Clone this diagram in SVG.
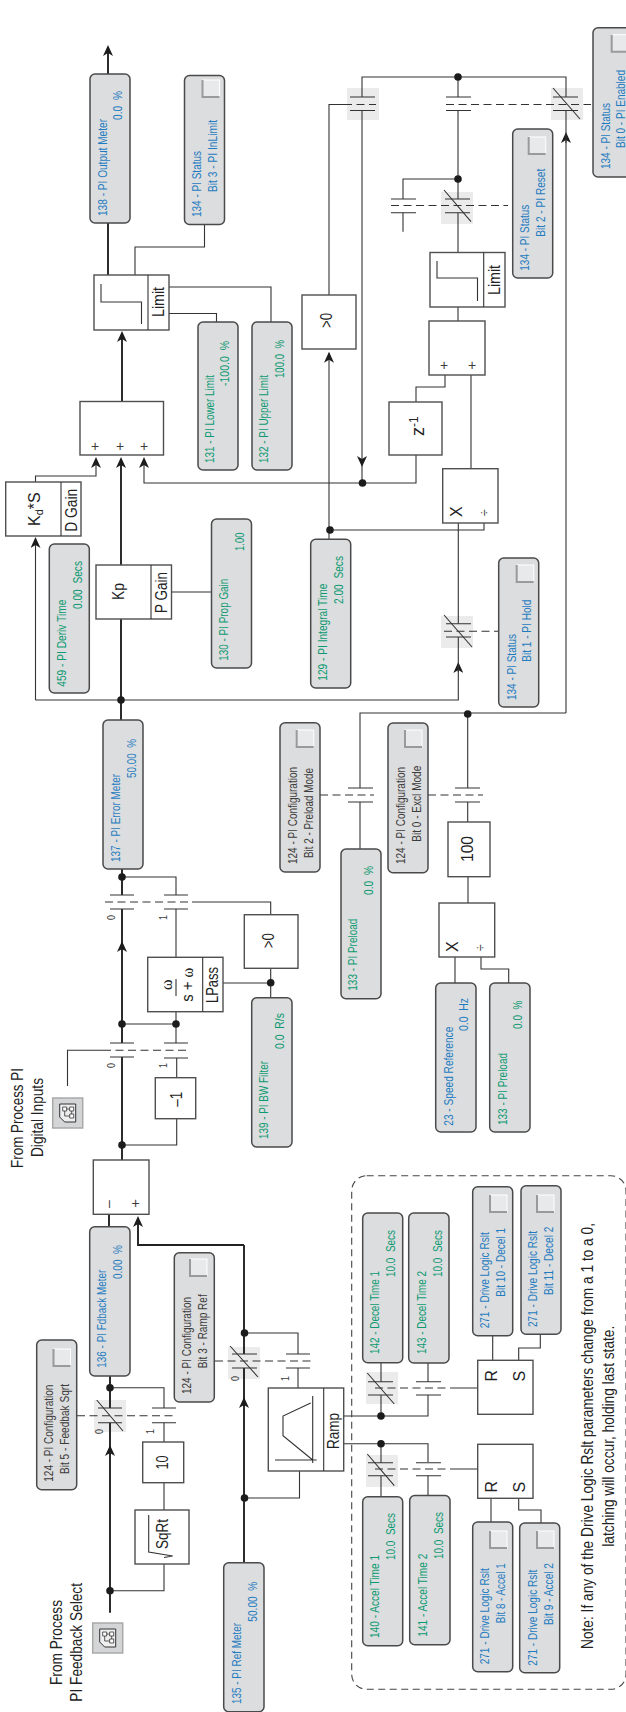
<svg xmlns="http://www.w3.org/2000/svg" width="626" height="1712" viewBox="0 0 626 1712">
<style>
text{font-family:"Liberation Sans",Arial,sans-serif;white-space:pre}
.t{font-size:12.4px}
.b{fill:#1f7cc1}.g{fill:#0c9a72}.n{fill:#3c3c3c}
.L{font-size:16px;fill:#222}
.tile{fill:#dcddde;stroke:#4a4a4a;stroke-width:1.5}
.box{fill:#fff;stroke:#4f4f4f;stroke-width:1.4}
.w{fill:none;stroke:#333;stroke-width:1.1}
.k{fill:none;stroke:#222;stroke-width:1.9}
.d{fill:none;stroke:#333;stroke-width:1.1;stroke-dasharray:8 4.5}
.dot{fill:#1c1c1c}
.sw{fill:#ebebec}
.cb{fill:#e8e9ea;stroke:#fff;stroke-width:1}
.cbs{fill:none;stroke:#9a9a9a;stroke-width:2}
.ic{fill:#d4d5d6;stroke:#a9a9a9;stroke-width:1.5}
.s{font-size:10.5px;fill:#3c3c3c}
</style>
<defs>
<marker id="arr" markerUnits="userSpaceOnUse" markerWidth="12" markerHeight="10" refX="9" refY="5" orient="auto"><path d="M11 5L0 0L3 5L0 10Z" fill="#1c1c1c"/></marker>
<g id="check"><rect class="cb" width="17" height="17"/><path class="cbs" d="M0 0V17H17"/></g>
<g id="icon"><rect class="ic" width="30" height="30"/><path d="M7 6H23V24H12L7 19Z" fill="#eee" stroke="#333"/><path d="M10 9h4v4h-4zM17 9h4v4h-4zM17 16h4v4h-4z" fill="#fff" stroke="#333" stroke-width=".8"/><path d="M14 11h3M19 13v3M12 13v5h5" fill="none" stroke="#333" stroke-width=".8"/></g>
</defs>

<g id="switch-backgrounds">
<rect class="sw" x="347" y="88" width="32" height="32"/>
<rect class="sw" x="551" y="88" width="32" height="32"/>
<rect class="sw" x="441" y="192" width="32" height="32"/>
<rect class="sw" x="441" y="616" width="32" height="32"/>
<rect class="sw" x="228" y="1347" width="32" height="32"/>
<rect class="sw" x="94" y="1400" width="32" height="32"/>
<rect class="sw" x="366" y="1372" width="32" height="32"/>
<rect class="sw" x="366" y="1455" width="32" height="32"/>
</g>

<g id="connectors">
<path class="k" d="M108 275V223M108 74V47" marker-end="url(#arr)"/>
<path class="k" d="M122 401.500V333" marker-end="url(#arr)"/>
<path class="k" d="M121 565V459" marker-end="url(#arr)"/>
<path class="k" d="M121 720V619M122 869V895M122 950V909M122 1160V1057M109 1226.700V1214"/>
<path class="k" d="M122 1043V943" marker-end="url(#arr)"/>
<path class="k" d="M244 1245H138V1218" marker-end="url(#arr)"/>
<path class="k" d="M244 1245V1354M244 1406V1368M110 1376V1408M110 1455V1422.700"/>
<path class="k" d="M244 1562.700V1399" marker-end="url(#arr)"/>
<path class="k" d="M110 1612.700V1447" marker-end="url(#arr)"/>

<path class="w" d="M35.500 482V476H96V459" marker-end="url(#arr)"/>
<path class="w" d="M35.500 700V539" marker-end="url(#arr)"/>
<path class="w" d="M121 700H35.500M121 700H458.300V664" marker-end="url(#arr)"/>
<path class="w" d="M362 483H144V459" marker-end="url(#arr)"/>
<path class="w" d="M362 110.500V465" marker-end="url(#arr)"/>
<path class="w" d="M329 539V353.700" marker-end="url(#arr)"/>
<path class="w" d="M566 713V134" marker-end="url(#arr)"/>
<path class="w" d="M204.500 224.500V247H135V275M169 287H271V322M169 313.500H216.500V322M171.500 592H211.500"/>
<path class="w" d="M458.300 672V637M458.300 623.700V523M362 465V483H416V455M362 97V77H566V97M458 77V97M458 110.500V199M458 212.700V252.500M458 179H403V199M403 212.700V231.700M458 307V321M445 375V387H416V402M471 375V468.700"/>
<path class="w" d="M329 295V104.500H344M329 530H484V523M566 110.500V143M566 713H360V788M467.700 713V788M360 802V849M467.700 802V822M468 877V903M455 957V983M481 957V969H508.700V983"/>
<path class="w" d="M270.700 914.700V902H192M270.700 968V997.700M223 983H270.700M122 1024H176V1043M176 1011.700V1024M176 957V909M176 895V877H122M67.500 1086V1050.300H103M122 1145H176.700V1118.700M176.700 1077.700V1058"/>
<path class="w" d="M244 1333H298V1354M298 1368V1388M244 1498H299.500V1471M110 1387.700H164V1408M164 1422.700V1442M164 1482.700V1510M164 1564V1590.700H110"/>
<path class="w" d="M343.700 1416H428V1395M381 1416V1395M381 1381.700V1362.700M428 1381.700V1363M343.700 1443.700H428V1462M381 1443.700V1462.700M381 1475.700V1496.700M428 1475.700V1495.500M450 1388H477.700M450 1469H477.700"/>
<path class="w" d="M492.700 1360.300V1335M518.700 1360.300V1348H540.300V1334.300M491 1498.300V1522M518.700 1498.300V1510H541V1523"/>

<path class="d" d="M344 104.500H376M446 104.500H591M391 205.500H508M444 631.300H498.500M320 795H374M428 795H483M103 1050.300H188M105 902H190M215 1361H315M77 1415.700H176.700M375 1388H450M375 1469H450"/>

<path class="w" d="M350 97H375M350 110.500H375M446 97H471M446 110.500H471M553 97H578M553 110.500H578M391 199H416M391 212.700H416M445 199H470M445 212.700H470M446 623.700H471M446 637H471M348 788H373M348 802H373M455 788H480M455 802H480M110 1043H134M110 1057H134M164 1043H188M164 1058H188M110 895H134M110 909H134M164 895H188M164 909H188M232 1354H257M232 1368H257M286 1354H310M286 1368H310M98 1408H122M98 1422.700H122M152 1408H176M152 1422.700H176M368 1381.700H393M368 1395H393M416 1381.700H441M416 1395H441M368 1462.700H393M368 1475.700H393M416 1462.700H441M416 1475.700H441"/>
<path class="w" d="M553 88L580 119M444 190L471 221.700M444 615L472 647M230 1346L258 1377M96.700 1400L123 1431M367.300 1373L394.300 1404M367.300 1454L394.300 1485.700"/>

<circle class="dot" cx="458" cy="77" r="3.800"/>
<circle class="dot" cx="458" cy="179" r="3.800"/>
<circle class="dot" cx="362.500" cy="483" r="3.800"/>
<circle class="dot" cx="330" cy="530" r="3.800"/>
<circle class="dot" cx="121" cy="700" r="3.800"/>
<circle class="dot" cx="467.700" cy="714" r="3.800"/>
<circle class="dot" cx="122" cy="877" r="3.800"/>
<circle class="dot" cx="270.700" cy="982.700" r="3.800"/>
<circle class="dot" cx="122" cy="1024" r="3.800"/>
<circle class="dot" cx="176" cy="1024" r="3.800"/>
<circle class="dot" cx="122" cy="1145" r="3.800"/>
<circle class="dot" cx="244.500" cy="1333" r="3.800"/>
<circle class="dot" cx="244.500" cy="1498" r="3.800"/>
<circle class="dot" cx="110" cy="1387.700" r="3.800"/>
<circle class="dot" cx="110" cy="1590.700" r="3.800"/>
<circle class="dot" cx="381" cy="1416" r="3.800"/>
<circle class="dot" cx="381" cy="1443.700" r="3.800"/>
</g>

<g id="switch-labels">
<text class="s" transform="translate(115 920) rotate(-90)" textLength="5" lengthAdjust="spacingAndGlyphs">0</text>
<text class="s" transform="translate(167 920) rotate(-90)" textLength="5" lengthAdjust="spacingAndGlyphs">1</text>
<text class="s" transform="translate(115 1068) rotate(-90)" textLength="5" lengthAdjust="spacingAndGlyphs">0</text>
<text class="s" transform="translate(167 1068) rotate(-90)" textLength="5" lengthAdjust="spacingAndGlyphs">1</text>
<text class="s" transform="translate(239 1381) rotate(-90)" textLength="5" lengthAdjust="spacingAndGlyphs">0</text>
<text class="s" transform="translate(289 1381) rotate(-90)" textLength="5" lengthAdjust="spacingAndGlyphs">1</text>
<text class="s" transform="translate(103 1434) rotate(-90)" textLength="5" lengthAdjust="spacingAndGlyphs">0</text>
<text class="s" transform="translate(154 1434) rotate(-90)" textLength="5" lengthAdjust="spacingAndGlyphs">1</text>
</g>

<path id="note-frame" fill="none" stroke="#444" stroke-width="1.1" stroke-dasharray="7 4.500" d="M366.700 1175.700H611A15 15 0 0 1 626 1190.700V1674.300A15 15 0 0 1 611 1689.300H366.700A15 15 0 0 1 351.700 1674.300V1190.700A15 15 0 0 1 366.700 1175.700Z"/>

<g id="t138"><rect class="tile" x="90" y="74" width="40" height="149" rx="5"/>
<text class="t b" transform="translate(107 216) rotate(-90)" textLength="97" lengthAdjust="spacingAndGlyphs">138 - PI Output Meter</text>
<text class="t b" transform="translate(122 120) rotate(-90)" textLength="29" lengthAdjust="spacingAndGlyphs">0.0  %</text></g>

<g id="t134-3"><rect class="tile" x="184.500" y="75.500" width="40" height="149" rx="5"/>
<text class="t b" transform="translate(201 217) rotate(-90)" textLength="66" lengthAdjust="spacingAndGlyphs">134 - PI Status</text>
<text class="t b" transform="translate(217 192) rotate(-90)" textLength="72" lengthAdjust="spacingAndGlyphs">Bit 3 - PI InLimit</text>
<use href="#check" x="202.500" y="80"/></g>

<g id="limit1"><rect class="box" x="94" y="275" width="75" height="55"/><path class="w" d="M148 275V330M101 284V302H141.500V324"/>
<text class="L" transform="translate(164 317) rotate(-90)" textLength="30" lengthAdjust="spacingAndGlyphs">Limit</text></g>

<g id="sum1"><rect class="box" x="80" y="401.500" width="83.500" height="53.500"/>
<text class="n" font-size="14" text-anchor="middle" x="95" y="451">+</text>
<text class="n" font-size="14" text-anchor="middle" x="120" y="451">+</text>
<text class="n" font-size="14" text-anchor="middle" x="144" y="451">+</text></g>

<g id="t131"><rect class="tile" x="198" y="322" width="40" height="148" rx="5"/>
<text class="t g" transform="translate(213.500 463) rotate(-90)" textLength="88" lengthAdjust="spacingAndGlyphs">131 - PI Lower Limit</text>
<text class="t g" transform="translate(228.500 386) rotate(-90)" textLength="45" lengthAdjust="spacingAndGlyphs">-100.0  %</text></g>

<g id="t132"><rect class="tile" x="252" y="322" width="40" height="148" rx="5"/>
<text class="t g" transform="translate(268 463) rotate(-90)" textLength="88" lengthAdjust="spacingAndGlyphs">132 - PI Upper Limit</text>
<text class="t g" transform="translate(284 378) rotate(-90)" textLength="38" lengthAdjust="spacingAndGlyphs">100.0  %</text></g>

<g id="kd"><rect class="box" x="5.700" y="482" width="75.300" height="54"/><path class="w" d="M61 482V536"/>
<text class="L" transform="translate(40 526) rotate(-90)">K<tspan font-size="11" dy="3">d</tspan><tspan dy="-3">*S</tspan></text>
<text class="L" transform="translate(76.500 531.700) rotate(-90)" textLength="43" lengthAdjust="spacingAndGlyphs">D Gain</text></g>

<g id="kp"><rect class="box" x="96" y="565" width="75.500" height="54"/><path class="w" d="M151 565V619"/>
<text class="L" transform="translate(124 600) rotate(-90)" textLength="17" lengthAdjust="spacingAndGlyphs">Kp</text>
<text class="L" transform="translate(166.700 613) rotate(-90)" textLength="41" lengthAdjust="spacingAndGlyphs">P Gain</text></g>

<g id="t130"><rect class="tile" x="211.500" y="519" width="40" height="149" rx="5"/>
<text class="t g" transform="translate(228 660.700) rotate(-90)" textLength="82" lengthAdjust="spacingAndGlyphs">130 - PI Prop Gain</text>
<text class="t g" transform="translate(244 551) rotate(-90)" textLength="18.500" lengthAdjust="spacingAndGlyphs">1.00</text></g>

<g id="t459"><rect class="tile" x="49.300" y="544" width="40" height="149" rx="5"/>
<text class="t g" transform="translate(66 686.700) rotate(-90)" textLength="87" lengthAdjust="spacingAndGlyphs">459 - PI Deriv Time</text>
<text class="t g" transform="translate(81.500 609) rotate(-90)" textLength="48" lengthAdjust="spacingAndGlyphs">0.00  Secs</text></g>

<g id="t137"><rect class="tile" x="103" y="720" width="40" height="149" rx="5"/>
<text class="t b" transform="translate(120 862) rotate(-90)" textLength="88" lengthAdjust="spacingAndGlyphs">137 - PI Error Meter</text>
<text class="t b" transform="translate(136 778) rotate(-90)" textLength="39" lengthAdjust="spacingAndGlyphs">50.00  %</text></g>

<g id="t129"><rect class="tile" x="310.700" y="539.300" width="40" height="148.700" rx="5"/>
<text class="t g" transform="translate(327 680.700) rotate(-90)" textLength="97" lengthAdjust="spacingAndGlyphs">129 - PI Integral Time</text>
<text class="t g" transform="translate(343 604) rotate(-90)" textLength="48" lengthAdjust="spacingAndGlyphs">2.00  Secs</text></g>

<g id="gt0-a"><rect class="box" x="302" y="295" width="54" height="54"/>
<text class="L" transform="translate(332 328) rotate(-90)" textLength="15" lengthAdjust="spacingAndGlyphs">&gt;0</text></g>

<g id="limit2"><rect class="box" x="430" y="252.500" width="75" height="54.500"/><path class="w" d="M483.700 252.500V307M437 261V278H477.500V301"/>
<text class="L" transform="translate(500 295) rotate(-90)" textLength="30" lengthAdjust="spacingAndGlyphs">Limit</text></g>

<g id="sum2"><rect class="box" x="429" y="321" width="56" height="54"/>
<text class="n" font-size="14" text-anchor="middle" x="444" y="370">+</text>
<text class="n" font-size="14" text-anchor="middle" x="472" y="370">+</text></g>

<g id="z1"><rect class="box" x="389" y="402" width="53" height="53"/>
<text class="L" style="font-size:18px" transform="translate(424 436) rotate(-90)">z<tspan style="font-size:12px" dy="-6">-1</tspan></text></g>

<g id="mul1"><rect class="box" x="442.700" y="468.700" width="55.300" height="54.300"/>
<text class="L" transform="translate(462 517) rotate(-90)">X</text>
<text class="n" font-size="12" transform="translate(489 516) rotate(-90)">÷</text></g>

<g id="t134-1"><rect class="tile" x="498.700" y="558" width="40" height="149" rx="5"/>
<text class="t b" transform="translate(516 700) rotate(-90)" textLength="66" lengthAdjust="spacingAndGlyphs">134 - PI Status</text>
<text class="t b" transform="translate(531 661.700) rotate(-90)" textLength="62" lengthAdjust="spacingAndGlyphs">Bit 1 - PI Hold</text>
<use href="#check" x="516.700" y="565"/></g>

<g id="t134-2"><rect class="tile" x="512.700" y="129" width="40" height="149" rx="5"/>
<text class="t b" transform="translate(529 270.700) rotate(-90)" textLength="66" lengthAdjust="spacingAndGlyphs">134 - PI Status</text>
<text class="t b" transform="translate(545 236.700) rotate(-90)" textLength="68" lengthAdjust="spacingAndGlyphs">Bit 2 - PI Reset</text>
<use href="#check" x="528.700" y="137"/></g>

<g id="t134-0"><rect class="tile" x="593" y="27.700" width="40" height="149.300" rx="5"/>
<text class="t b" transform="translate(610 169) rotate(-90)" textLength="66" lengthAdjust="spacingAndGlyphs">134 - PI Status</text>
<text class="t b" transform="translate(625 148) rotate(-90)" textLength="78" lengthAdjust="spacingAndGlyphs">Bit 0 - PI Enabled</text>
<use href="#check" x="611.700" y="34.700"/></g>

<g id="t124-2"><rect class="tile" x="280" y="722.700" width="40" height="149.300" rx="5"/>
<text class="t n" transform="translate(296.700 864) rotate(-90)" textLength="97" lengthAdjust="spacingAndGlyphs">124 - PI Configuration</text>
<text class="t n" transform="translate(312.700 858) rotate(-90)" textLength="90" lengthAdjust="spacingAndGlyphs">Bit 2 - Preload Mode</text>
<use href="#check" x="296.700" y="730"/></g>

<g id="t124-0"><rect class="tile" x="388" y="723" width="40" height="149.700" rx="5"/>
<text class="t n" transform="translate(405 864) rotate(-90)" textLength="97" lengthAdjust="spacingAndGlyphs">124 - PI Configuration</text>
<text class="t n" transform="translate(420.700 841.700) rotate(-90)" textLength="76" lengthAdjust="spacingAndGlyphs">Bit 0 - Excl Mode</text>
<use href="#check" x="405" y="730"/></g>

<g id="t133a"><rect class="tile" x="341" y="849" width="40" height="149.700" rx="5"/>
<text class="t g" transform="translate(357 990.700) rotate(-90)" textLength="72" lengthAdjust="spacingAndGlyphs">133 - PI Preload</text>
<text class="t g" transform="translate(373 895) rotate(-90)" textLength="29" lengthAdjust="spacingAndGlyphs">0.0  %</text></g>

<g id="b100"><rect class="box" x="448" y="822" width="42" height="54.700"/>
<text class="L" transform="translate(473 862) rotate(-90)" textLength="26" lengthAdjust="spacingAndGlyphs">100</text></g>

<g id="mul2"><rect class="box" x="439" y="903" width="55.700" height="54"/>
<text class="L" transform="translate(458 952) rotate(-90)">X</text>
<text class="n" font-size="12" transform="translate(485 951) rotate(-90)">÷</text></g>

<g id="t23"><rect class="tile" x="435.700" y="983" width="40.300" height="149" rx="5"/>
<text class="t b" transform="translate(452.700 1125.700) rotate(-90)" textLength="99" lengthAdjust="spacingAndGlyphs">23 - Speed Reference</text>
<text class="t b" transform="translate(468 1031) rotate(-90)" textLength="33" lengthAdjust="spacingAndGlyphs">0.0  Hz</text></g>

<g id="t133b"><rect class="tile" x="489.700" y="983" width="40.300" height="149" rx="5"/>
<text class="t g" transform="translate(506.700 1125) rotate(-90)" textLength="72" lengthAdjust="spacingAndGlyphs">133 - PI Preload</text>
<text class="t g" transform="translate(522 1029) rotate(-90)" textLength="28.500" lengthAdjust="spacingAndGlyphs">0.0  %</text></g>

<g id="lpass"><rect class="box" x="147.700" y="957.300" width="75.300" height="54.400"/><path class="w" d="M202.700 957.300V1011.700M176 979V996"/>
<text class="L" style="font-family:'Liberation Serif',serif" transform="translate(172 990) rotate(-90)">ω</text>
<text class="L" transform="translate(192.700 1001.700) rotate(-90)" textLength="34" lengthAdjust="spacingAndGlyphs">s + <tspan style="font-family:'Liberation Serif',serif">ω</tspan></text>
<text class="L" transform="translate(218 1003) rotate(-90)" textLength="36" lengthAdjust="spacingAndGlyphs">LPass</text></g>

<g id="gt0-b"><rect class="box" x="244.300" y="914.700" width="53.700" height="53.600"/>
<text class="L" transform="translate(274 948.300) rotate(-90)" textLength="15" lengthAdjust="spacingAndGlyphs">&gt;0</text></g>

<g id="t139"><rect class="tile" x="251.700" y="997.700" width="40.300" height="149.300" rx="5"/>
<text class="t g" transform="translate(268 1139) rotate(-90)" textLength="78" lengthAdjust="spacingAndGlyphs">139 - PI BW Filter</text>
<text class="t g" transform="translate(284 1049) rotate(-90)" textLength="36" lengthAdjust="spacingAndGlyphs">0.0  R/s</text></g>

<g id="neg"><rect class="box" x="155.300" y="1077.700" width="40.400" height="41"/>
<text class="L" transform="translate(181.700 1106.700) rotate(-90)" textLength="15" lengthAdjust="spacingAndGlyphs">–1</text></g>

<g id="sum0"><rect class="box" x="93.300" y="1160" width="55.700" height="54.300"/>
<text class="n" font-size="14" transform="translate(112.500 1208) rotate(-90)">–</text>
<text class="n" font-size="14" text-anchor="middle" x="135.500" y="1208">+</text></g>

<g id="from-di"><text class="L" transform="translate(23 1168) rotate(-90)" textLength="100" lengthAdjust="spacingAndGlyphs">From Process PI</text>
<text class="L" transform="translate(42.700 1157) rotate(-90)" textLength="79" lengthAdjust="spacingAndGlyphs">Digital Inputs</text>
<use href="#icon" x="52.700" y="1098"/></g>

<g id="t136"><rect class="tile" x="89.700" y="1226.700" width="40.300" height="149.300" rx="5"/>
<text class="t b" transform="translate(106 1367.700) rotate(-90)" textLength="98" lengthAdjust="spacingAndGlyphs">136 - PI Fdback Meter</text>
<text class="t b" transform="translate(122 1279) rotate(-90)" textLength="34" lengthAdjust="spacingAndGlyphs">0.00  %</text></g>

<g id="t124-5"><rect class="tile" x="36.700" y="1340" width="40" height="149.700" rx="5"/>
<text class="t n" transform="translate(53 1481.700) rotate(-90)" textLength="97" lengthAdjust="spacingAndGlyphs">124 - PI Configuration</text>
<text class="t n" transform="translate(69 1474) rotate(-90)" textLength="90" lengthAdjust="spacingAndGlyphs">Bit 5 - Feedbak Sqrt</text>
<use href="#check" x="53.500" y="1349"/></g>

<g id="t124-3"><rect class="tile" x="174.300" y="1252.700" width="40" height="149.300" rx="5"/>
<text class="t n" transform="translate(191 1394) rotate(-90)" textLength="97" lengthAdjust="spacingAndGlyphs">124 - PI Configuration</text>
<text class="t n" transform="translate(206.700 1368.300) rotate(-90)" textLength="74" lengthAdjust="spacingAndGlyphs">Bit 3 - Ramp Ref</text>
<use href="#check" x="190" y="1259"/></g>

<g id="t135"><rect class="tile" x="223.700" y="1562.700" width="40.300" height="149" rx="5"/>
<text class="t b" transform="translate(240.700 1704) rotate(-90)" textLength="81" lengthAdjust="spacingAndGlyphs">135 - PI Ref Meter</text>
<text class="t b" transform="translate(256.700 1621.700) rotate(-90)" textLength="40" lengthAdjust="spacingAndGlyphs">50.00  %</text></g>

<g id="b10"><rect class="box" x="142.700" y="1442" width="41" height="40.700"/>
<text class="L" transform="translate(167.700 1469.500) rotate(-90)" textLength="14" lengthAdjust="spacingAndGlyphs">10</text></g>

<g id="sqrt"><rect class="box" x="135" y="1510" width="54" height="54"/><path class="w" d="M148.700 1515V1552L172.700 1556L164 1557.500"/>
<text class="L" transform="translate(167.700 1549) rotate(-90)" textLength="30" lengthAdjust="spacingAndGlyphs">SqRt</text></g>

<g id="from-fb"><text class="L" transform="translate(62.300 1685) rotate(-90)" textLength="85" lengthAdjust="spacingAndGlyphs">From Process</text>
<text class="L" transform="translate(81.700 1701.700) rotate(-90)" textLength="118.700" lengthAdjust="spacingAndGlyphs">PI Feedback Select</text>
<use href="#icon" x="92.700" y="1623"/></g>

<g id="ramp"><rect class="box" x="268.300" y="1388" width="75.400" height="83"/><path class="w" d="M323.700 1388V1471M275 1460H316.700M312.700 1396V1463M310.700 1403L283 1416V1435.700L312.700 1460"/>
<text class="L" transform="translate(339 1449) rotate(-90)" textLength="36" lengthAdjust="spacingAndGlyphs">Ramp</text></g>

<g id="t140"><rect class="tile" x="362.700" y="1496.700" width="40" height="149" rx="5"/>
<text class="t g" transform="translate(379 1638) rotate(-90)" textLength="83" lengthAdjust="spacingAndGlyphs">140 - Accel Time 1</text>
<text class="t g" transform="translate(395 1560) rotate(-90)" textLength="47" lengthAdjust="spacingAndGlyphs">10.0  Secs</text></g>

<g id="t141"><rect class="tile" x="409.700" y="1495.500" width="40.300" height="149.200" rx="5"/>
<text class="t g" transform="translate(426.700 1636.700) rotate(-90)" textLength="83" lengthAdjust="spacingAndGlyphs">141 - Accel Time 2</text>
<text class="t g" transform="translate(442.700 1559) rotate(-90)" textLength="47" lengthAdjust="spacingAndGlyphs">10.0  Secs</text></g>

<g id="t142"><rect class="tile" x="362.700" y="1213" width="40" height="149.700" rx="5"/>
<text class="t g" transform="translate(379 1354) rotate(-90)" textLength="83" lengthAdjust="spacingAndGlyphs">142 - Decel Time 1</text>
<text class="t g" transform="translate(395 1277) rotate(-90)" textLength="47" lengthAdjust="spacingAndGlyphs">10.0  Secs</text></g>

<g id="t143"><rect class="tile" x="408.700" y="1213" width="40.300" height="150" rx="5"/>
<text class="t g" transform="translate(426 1354) rotate(-90)" textLength="83" lengthAdjust="spacingAndGlyphs">143 - Decel Time 2</text>
<text class="t g" transform="translate(441.700 1277) rotate(-90)" textLength="47" lengthAdjust="spacingAndGlyphs">10.0  Secs</text></g>

<g id="rs1"><rect class="box" x="477.700" y="1360.300" width="55.300" height="54"/>
<text class="L" transform="translate(496.700 1381.500) rotate(-90)">R</text>
<text class="L" transform="translate(525 1381.500) rotate(-90)">S</text></g>

<g id="rs2"><rect class="box" x="477.700" y="1444.300" width="55.300" height="54"/>
<text class="L" transform="translate(496.700 1492.500) rotate(-90)">R</text>
<text class="L" transform="translate(525 1492.500) rotate(-90)">S</text></g>

<g id="t271-10"><rect class="tile" x="472.700" y="1186.700" width="40" height="149" rx="5"/>
<text class="t b" transform="translate(489.300 1328.300) rotate(-90)" textLength="96" lengthAdjust="spacingAndGlyphs">271 - Drive Logic Rslt</text>
<text class="t b" transform="translate(505 1296.700) rotate(-90)" textLength="68.700" lengthAdjust="spacingAndGlyphs">Bit 10 - Decel 1</text>
<use href="#check" x="490" y="1195"/></g>

<g id="t271-11"><rect class="tile" x="521" y="1185.700" width="40" height="148.600" rx="5"/>
<text class="t b" transform="translate(537 1327) rotate(-90)" textLength="96" lengthAdjust="spacingAndGlyphs">271 - Drive Logic Rslt</text>
<text class="t b" transform="translate(553 1295) rotate(-90)" textLength="68.300" lengthAdjust="spacingAndGlyphs">Bit 11 - Decel 2</text>
<use href="#check" x="537" y="1195"/></g>

<g id="t271-8"><rect class="tile" x="472.700" y="1522" width="40" height="149.700" rx="5"/>
<text class="t b" transform="translate(489 1664.300) rotate(-90)" textLength="96" lengthAdjust="spacingAndGlyphs">271 - Drive Logic Rslt</text>
<text class="t b" transform="translate(505 1623.300) rotate(-90)" textLength="60" lengthAdjust="spacingAndGlyphs">Bit 8 - Accel 1</text>
<use href="#check" x="490" y="1531"/></g>

<g id="t271-9"><rect class="tile" x="519.700" y="1523" width="40" height="149.700" rx="5"/>
<text class="t b" transform="translate(536.700 1665.700) rotate(-90)" textLength="96" lengthAdjust="spacingAndGlyphs">271 - Drive Logic Rslt</text>
<text class="t b" transform="translate(552.700 1625) rotate(-90)" textLength="62" lengthAdjust="spacingAndGlyphs">Bit 9 - Accel 2</text>
<use href="#check" x="537" y="1531"/></g>

<g id="note"><text class="L" transform="translate(593.300 1649) rotate(-90)" textLength="426" lengthAdjust="spacingAndGlyphs">Note: If any of the Drive Logic Rslt parameters change from a 1 to a 0,</text>
<text class="L" transform="translate(614 1546.700) rotate(-90)" textLength="221" lengthAdjust="spacingAndGlyphs">latching will occur, holding last state.</text></g>
</svg>
